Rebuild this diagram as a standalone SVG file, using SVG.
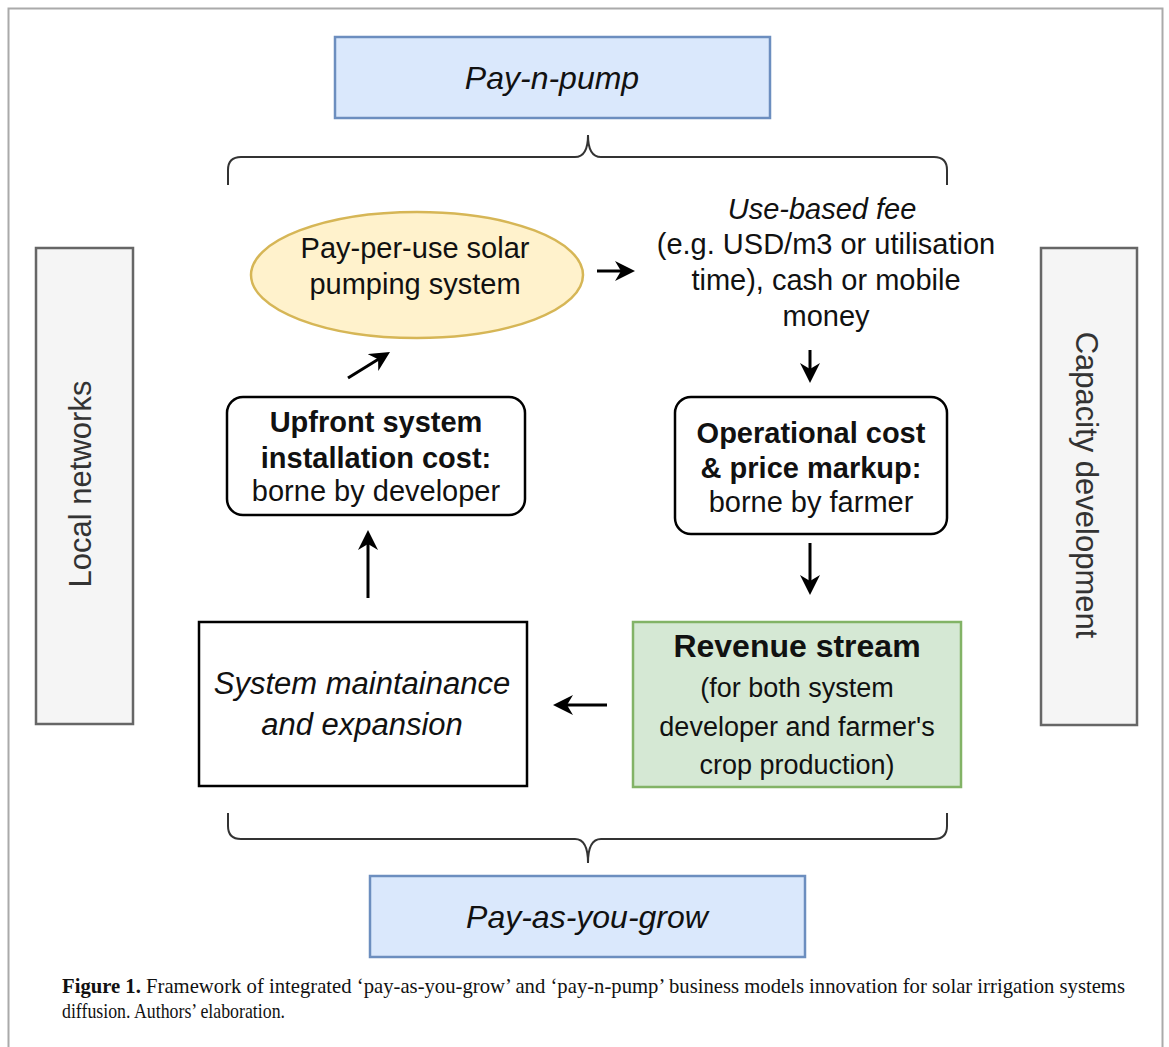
<svg xmlns="http://www.w3.org/2000/svg" width="1169" height="1047" viewBox="0 0 1169 1047">
<style>
.t{font-family:"Liberation Sans",Arial,sans-serif;fill:#111;text-anchor:middle}
.b{font-weight:bold}
.i{font-style:italic}
.blue{fill:#dae8fc;stroke:#6c8ebf;stroke-width:2.5}
.side{fill:#f5f5f5;stroke:#666;stroke-width:2.5}
.ar{stroke:#000;stroke-width:3;fill:none;marker-end:url(#ah)}
.br{stroke:#333;stroke-width:2;fill:none}
.cap{font-family:"Liberation Serif","Times New Roman",serif;font-size:21px;fill:#111}
</style>
<defs>
<marker id="ah" markerUnits="userSpaceOnUse" markerWidth="20" markerHeight="20" refX="12" refY="10" orient="auto" viewBox="0 0 20 20">
<path d="M0,0 L20,10 L0,20 L6,10 Z" fill="#000"/>
</marker>
</defs>
<rect x="0" y="0" width="1169" height="1047" fill="#fff"/>
<rect x="8.5" y="8.5" width="1154" height="1050" fill="none" stroke="#aaa" stroke-width="2"/>

<g id="pay-n-pump">
<rect class="blue" x="335" y="37" width="435" height="81"/>
<text class="t i" x="552" y="89" font-size="32">Pay-n-pump</text>
</g>
<g id="pay-as-you-grow">
<rect class="blue" x="370" y="876" width="435" height="81"/>
<text class="t i" x="587" y="928" font-size="32">Pay-as-you-grow</text>
</g>
<g id="local-networks">
<rect class="side" x="36" y="248" width="97" height="476"/>
<text class="t" transform="translate(91,484) rotate(-90)" font-size="31" style="fill:#333">Local networks</text>
</g>
<g id="capacity-development">
<rect class="side" x="1041" y="248" width="96" height="477"/>
<text class="t" transform="translate(1076,485) rotate(90)" font-size="31" style="fill:#333">Capacity development</text>
</g>
<g id="pay-per-use">
<ellipse cx="417" cy="275" rx="166" ry="63" fill="#fff2cc" stroke="#d6b656" stroke-width="2.5"/>
<text class="t" x="415" y="258" font-size="29">Pay-per-use solar</text>
<text class="t" x="415" y="294" font-size="29">pumping system</text>
</g>
<g id="use-based-fee">
<text class="t i" x="822" y="219" font-size="29">Use-based fee</text>
<text class="t" x="826" y="254" font-size="29">(e.g. USD/m3 or utilisation</text>
<text class="t" x="826" y="290" font-size="29">time), cash or mobile</text>
<text class="t" x="826" y="326" font-size="29">money</text>
</g>
<g id="upfront">
<rect x="227" y="397" width="298" height="118" rx="16" fill="#fff" stroke="#000" stroke-width="2.5"/>
<text class="t b" x="376" y="432" font-size="29">Upfront system</text>
<text class="t b" x="376" y="468" font-size="29">installation cost:</text>
<text class="t" x="376" y="501" font-size="29">borne by developer</text>
</g>
<g id="operational">
<rect x="675" y="397" width="272" height="137" rx="16" fill="#fff" stroke="#000" stroke-width="2.5"/>
<text class="t b" x="811" y="443" font-size="29">Operational cost</text>
<text class="t b" x="811" y="478" font-size="29">&amp; price markup:</text>
<text class="t" x="811" y="512" font-size="29">borne by farmer</text>
</g>
<g id="revenue">
<rect x="633" y="622" width="328" height="165" fill="#d5e8d4" stroke="#82b366" stroke-width="2.5"/>
<text class="t b" x="797" y="657" font-size="32">Revenue stream</text>
<text class="t" x="797" y="697" font-size="27">(for both system</text>
<text class="t" x="797" y="736" font-size="27">developer and farmer's</text>
<text class="t" x="797" y="774" font-size="27">crop production)</text>
</g>
<g id="maintenance">
<rect x="199" y="622" width="328" height="164" fill="#fff" stroke="#000" stroke-width="2.5"/>
<text class="t i" x="362" y="694" font-size="31">System maintainance</text>
<text class="t i" x="362" y="735" font-size="31">and expansion</text>
</g>

<g id="connectors">
<path class="ar" d="M348,378 L383.2,356.2"/>
<path class="ar" d="M597,271 L627,271"/>
<path class="ar" d="M810,350 L810,375"/>
<path class="ar" d="M810,543 L810,587"/>
<path class="ar" d="M607,705 L561,705"/>
<path class="ar" d="M368,598 L368,538"/>
<path class="br" d="M228,185 L228,170 Q228,157 241,157 L575,157 Q588,157 588,135 Q588,157 601,157 L934,157 Q947,157 947,170 L947,185"/>
<path class="br" d="M228,813 L228,826 Q228,839 241,839 L575,839 Q588,839 588,863 Q588,839 601,839 L934,839 Q947,839 947,826 L947,813"/>
</g>

<g id="caption">
<text class="cap" x="62" y="993" textLength="1063" lengthAdjust="spacingAndGlyphs"><tspan font-weight="bold">Figure 1.</tspan> Framework of integrated ‘pay-as-you-grow’ and ‘pay-n-pump’ business models innovation for solar irrigation systems</text>
<text class="cap" x="62" y="1018" textLength="223" lengthAdjust="spacingAndGlyphs">diffusion. Authors’ elaboration.</text>
</g>
</svg>
